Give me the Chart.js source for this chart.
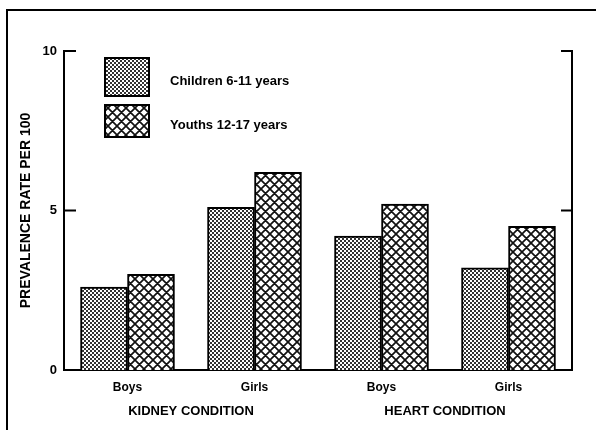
<!DOCTYPE html>
<html>
<head>
<meta charset="utf-8">
<script src="https://cdn.jsdelivr.net/npm/chart.js@4/dist/chart.umd.min.js"></script>
<style>
  html, body { margin: 0; padding: 0; background: #fff; }
</style>
</head>
<body>
<canvas id="chart" width="596" height="430"></canvas>
<script>
// data
const categories = ['Boys', 'Girls', 'Boys', 'Girls'];
const groups = ['KIDNEY CONDITION', 'HEART CONDITION'];
const seriesNames = ['Children 6-11 years', 'Youths 12-17 years'];
const children = [2.6, 5.1, 4.2, 3.2];
const youths = [3.0, 6.2, 5.2, 4.5];
const yTicks = [0, 5, 10];

const canvas = document.getElementById('chart');
const ctx = canvas.getContext('2d');

// fine dot screen for the younger group
function stipple() {
    const c = document.createElement('canvas');
    c.width = 4; c.height = 4;
    const g = c.getContext('2d');
    g.fillStyle = '#fff';
    g.fillRect(0, 0, 4, 4);
    g.fillStyle = '#333';
    g.fillRect(0, 0, 2, 2);
    g.fillRect(2, 2, 2, 2);
    return ctx.createPattern(c, 'repeat');
}

// diagonal cross hatch for the older group
function crossHatch() {
    const s = 9;
    const c = document.createElement('canvas');
    c.width = s; c.height = s;
    const g = c.getContext('2d');
    g.fillStyle = '#fff';
    g.fillRect(0, 0, s, s);
    g.strokeStyle = '#111';
    g.lineWidth = 1.7;
    g.beginPath();
    for (const dx of [-s, 0, s]) {
        g.moveTo(dx, 0); g.lineTo(dx + s, s);
        g.moveTo(dx + s, 0); g.lineTo(dx, s);
    }
    g.stroke();
    return ctx.createPattern(c, 'repeat');
}

const fills = [stipple(), crossHatch()];
const font = 'Liberation Sans, Arial, sans-serif';

// outer frame (top and left edges of the page box)
const frame = {
    id: 'frame',
    beforeDraw(chart) {
        const c = chart.ctx;
        c.save();
        c.strokeStyle = '#000';
        c.lineWidth = 2;
        c.beginPath();
        c.moveTo(7, 430);
        c.lineTo(7, 10);
        c.lineTo(596, 10);
        c.stroke();
        c.restore();
    }
};

// tick marks pointing into the plot on both sides
const innerTicks = {
    id: 'innerTicks',
    afterDraw(chart) {
        const c = chart.ctx;
        const area = chart.chartArea;
        const y = chart.scales.y;
        c.save();
        c.strokeStyle = '#000';
        c.lineWidth = 2;
        y.ticks.forEach(t => {
            if (t.value === 0) return;
            const py = y.getPixelForValue(t.value);
            c.beginPath();
            c.moveTo(area.left, py); c.lineTo(area.left + 12, py);
            c.moveTo(area.right, py); c.lineTo(area.right - 11, py);
            c.stroke();
        });
        c.restore();
    }
};

// legend boxes inside the plot, top left
const boxLegend = {
    id: 'boxLegend',
    afterDatasetsDraw(chart) {
        const c = chart.ctx;
        const area = chart.chartArea;
        const rows = [{dy: 7, h: 38}, {dy: 54, h: 32}];
        c.save();
        chart.data.datasets.forEach((ds, i) => {
            const x = area.left + 41;
            const y = area.top + rows[i].dy;
            c.fillStyle = ds.backgroundColor;
            c.fillRect(x, y, 44, rows[i].h);
            c.strokeStyle = '#000';
            c.lineWidth = 2;
            c.strokeRect(x, y, 44, rows[i].h);
            c.fillStyle = '#000';
            c.font = 'bold 13px ' + font;
            c.textBaseline = 'middle';
            c.fillText(ds.label, x + 65, y + rows[i].h / 2 + 4);
        });
        c.restore();
    }
};

new Chart(canvas, {
    type: 'bar',
    data: {
        labels: categories,
        datasets: [
            { label: seriesNames[0], data: children, backgroundColor: fills[0] },
            { label: seriesNames[1], data: youths, backgroundColor: fills[1] }
        ]
    },
    options: {
        responsive: false,
        animation: false,
        layout: { padding: { top: 51, left: 0, right: 0, bottom: 0 } },
        datasets: {
            bar: { barThickness: 47, borderColor: '#000', borderWidth: 2 }
        },
        plugins: {
            legend: { display: false },
            tooltip: { enabled: false }
        },
        scales: {
            x: {
                offset: true,
                grid: { display: false, drawTicks: false },
                border: { color: '#000', width: 2 },
                ticks: { color: '#000', padding: 10, font: { family: font, size: 12, weight: 'bold' } },
                afterFit: s => { s.height = 26; }
            },
            x2: {
                type: 'category',
                labels: groups,
                position: 'bottom',
                offset: true,
                grid: { display: false, drawTicks: false },
                border: { display: false },
                ticks: { color: '#000', padding: 8, font: { family: font, size: 13, weight: 'bold' } },
                afterFit: s => { s.height = 34; }
            },
            y: {
                min: 0,
                max: 10,
                afterBuildTicks: s => { s.ticks = yTicks.map(v => ({ value: v })); },
                grid: { display: false, drawTicks: false },
                border: { color: '#000', width: 2 },
                ticks: { color: '#000', padding: 7, font: { family: font, size: 13, weight: 'bold' } },
                title: {
                    display: true,
                    text: 'PREVALENCE RATE PER 100',
                    color: '#000',
                    padding: { top: 18, bottom: 0 },
                    font: { family: font, size: 14, weight: 'bold' }
                },
                afterFit: s => { s.width = 64; }
            },
            y2: {
                position: 'right',
                min: 0,
                max: 10,
                grid: { display: false, drawTicks: false },
                border: { color: '#000', width: 2 },
                ticks: { display: false },
                afterFit: s => { s.width = 24; }
            }
        }
    },
    plugins: [frame, innerTicks, boxLegend]
});
</script>
</body>
</html>
